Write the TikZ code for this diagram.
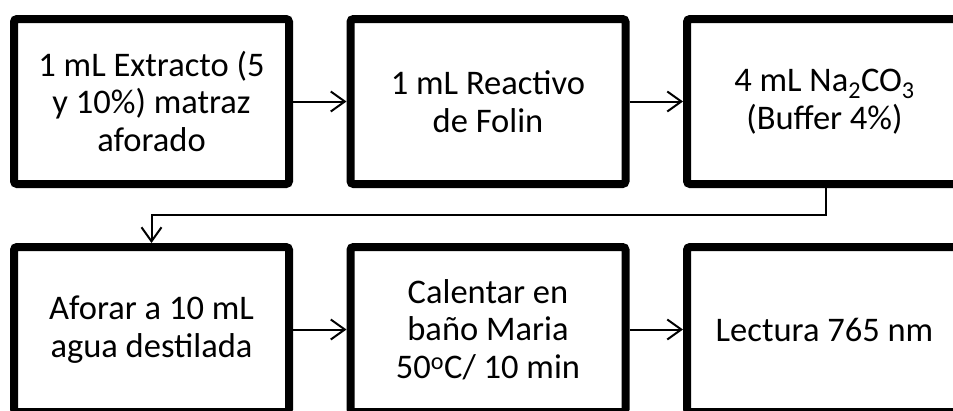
\documentclass[tikz,border=0pt]{standalone}
\usepackage{fontspec}
\setmainfont{Carlito}
\usetikzlibrary{arrows.meta,shadows}
\begin{document}
\begin{tikzpicture}[x=1pt,y=-1pt,
  stepbox/.style={draw=black, line width=8pt, rounded corners=3pt, fill=white,
    minimum width=275pt, minimum height=165pt, align=center, inner sep=0pt,
    font=\fontsize{34.5}{37.5}\selectfont,
    drop shadow={opacity=0.25, shadow xshift=2pt, shadow yshift=-2pt}},
  flow/.style={line width=2pt, -{Straight Barb[length=14pt,width=20pt,line width=2pt]}}]
\useasboundingbox (0,0) rectangle (953,410);
\node[stepbox] (a) at (151.5,101.5) {1 mL Extracto (5\\y 10\%) matraz\\aforado};
\node[stepbox] (b) at (488,101.5) {1 mL Reactivo\\de Folin};
\node[stepbox] (c) at (824.5,101.5) {4 mL Na\textsubscript{2}CO\textsubscript{3}\\(Buffer 4\%)};
\node[stepbox] (d) at (151.5,329.5) {Aforar a 10 mL\\agua destilada};
\node[stepbox] (e) at (488,329.5) {Calentar en\\baño Maria\\50\textsuperscript{o}C/ 10 min};
\node[stepbox] (f) at (824.5,329.5) {Lectura 765 nm};
\coordinate (k1) at (826,215);
\coordinate (k2) at (151.5,215);
\draw[flow] (a.east) -- (b.west);
\draw[flow] (b.east) -- (c.west);
\draw[flow] (d.east) -- (e.west);
\draw[flow] (e.east) -- (f.west);
\draw[flow] (c.south -| k1) -- (k1) -- (k2) -- (d.north);
\end{tikzpicture}
\end{document}
